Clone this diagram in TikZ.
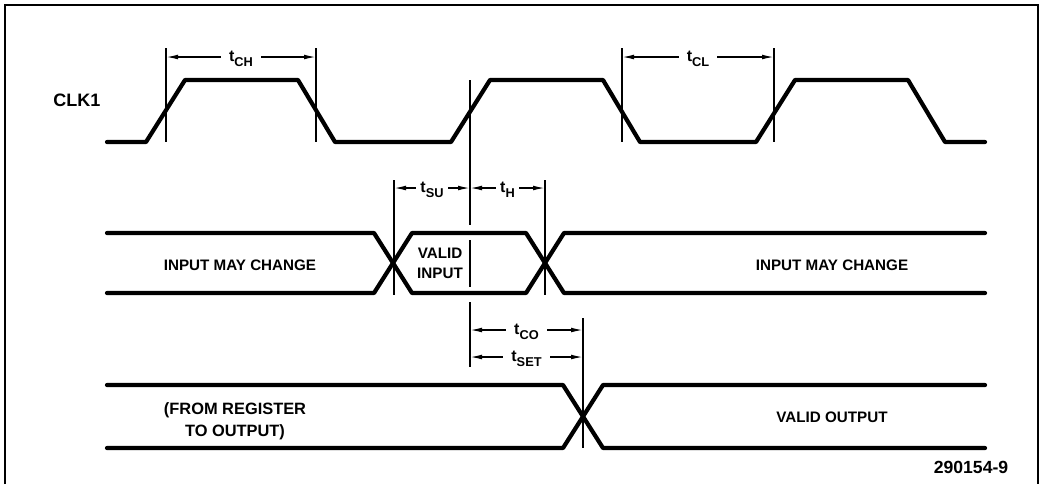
\documentclass[tikz,border=0pt]{standalone}
\usepackage{fontspec}
\setmainfont{Liberation Sans}
\usetikzlibrary{arrows.meta}
\newcommand{\tsub}[1]{t\raisebox{-2.6pt}{\fontsize{6.4}{7}\selectfont #1}}
\begin{document}
\begin{tikzpicture}[x=0.5pt,y=-0.5pt,>={Latex[length=6pt,width=2.4pt]},
    wave/.style={line width=2.1pt,line cap=round,line join=round},
    tick/.style={line width=0.7pt},
    dim/.style={line width=0.7pt,<->},
    lbl/.style={font=\fontsize{7.6}{10}\selectfont\bfseries,inner sep=1pt,align=center},
    tlbl/.style={font=\fontsize{8}{9}\selectfont\bfseries,fill=white,inner ysep=1pt,inner xsep=4pt,yshift=-1pt}]
  \useasboundingbox (0,0) rectangle (1042,484);
  \draw[line width=0.7pt] (5,484) -- (5,5) -- (1038,5) -- (1038,484);
  % clock
  \node[lbl,font=\fontsize{9}{10}\selectfont\bfseries] (clk) at (77,100) {CLK1};
  \draw[wave] (107,142) foreach \s in {146,451,756} {
      -- (\s,142) -- ({\s+39},80) -- ({\s+152},80) -- ({\s+189},142)} -- (985,142);
  \foreach \x in {166,316,622,774}
    \draw[tick] (\x,48) -- (\x,142);
  \coordinate (ch-a) at (166,57);
  \coordinate (ch-b) at (316,57);
  \coordinate (cl-a) at (622,57);
  \coordinate (cl-b) at (774,57);
  \draw[dim] (ch-a) -- node[tlbl] (tch) {\tsub{CH}} (ch-b);
  \draw[dim] (cl-a) -- node[tlbl] (tcl) {\tsub{CL}} (cl-b);
  % input
  \draw[wave] (107,233) -- (374,233) -- (412,293) -- (526,293) -- (564,233) -- (985,233);
  \draw[wave] (107,293) -- (374,293) -- (412,233) -- (526,233) -- (564,293) -- (985,293);
  \draw[tick] (470,80) -- (470,225) (470,240) -- (470,287);
  \draw[tick] (394,180) -- (394,295) (545,180) -- (545,295);
  \coordinate (su-a) at (394,188);
  \coordinate (su-b) at (470,188);
  \coordinate (h-b) at (545,188);
  \draw[dim] (su-a) -- node[tlbl,inner xsep=2pt] (tsu) {\tsub{SU}} (su-b);
  \draw[dim] (su-b) -- node[tlbl,inner xsep=2pt] (th) {\tsub{H}} (h-b);
  \node[lbl] (chg1) at (240,265) {INPUT MAY CHANGE};
  \node[lbl] (valin) at (440,263) {VALID\\INPUT};
  \node[lbl] (chg2) at (832,265) {INPUT MAY CHANGE};
  % output
  \draw[wave] (107,385) -- (563,385) -- (603,448) -- (985,448);
  \draw[wave] (107,448) -- (563,448) -- (603,385) -- (985,385);
  \draw[tick] (470,302) -- (470,367) (583,318) -- (583,448);
  \coordinate (co-a) at (470,330);
  \coordinate (co-b) at (583,330);
  \coordinate (set-a) at (470,357);
  \coordinate (set-b) at (583,357);
  \draw[dim] (co-a) -- node[tlbl] (tco) {\tsub{CO}} (co-b);
  \draw[dim] (set-a) -- node[tlbl] (tset) {\tsub{SET}} (set-b);
  \node[lbl,font=\fontsize{8.2}{11}\selectfont\bfseries] (reg) at (235,421) {(FROM REGISTER\\TO OUTPUT)};
  \node[lbl] (valout) at (832,417) {VALID OUTPUT};
  \node[lbl,font=\fontsize{8.8}{10}\selectfont\bfseries] (fig) at (971,467) {290154-9};
\end{tikzpicture}
\end{document}
